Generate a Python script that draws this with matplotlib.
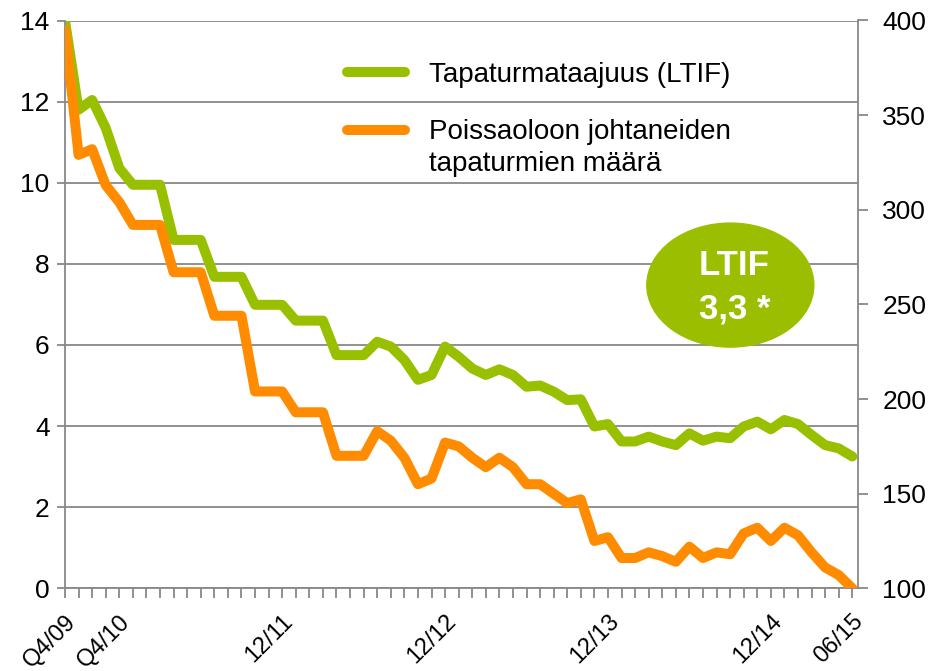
import numpy as np
import matplotlib.pyplot as plt
from matplotlib.patches import Ellipse
from matplotlib.legend_handler import HandlerLine2D

plt.rcParams['font.family'] = ['Liberation Sans', 'DejaVu Sans']

# quarterly Q4/09..Q4/10, then monthly 01/11..06/15
ltif = [14.0, 11.8, 12.04, 11.35, 10.36, 9.95, 9.95, 9.95, 8.59, 8.59,
        8.59, 7.68, 7.68, 7.68, 6.99, 6.99, 6.99, 6.6, 6.6, 6.6,
        5.75, 5.75, 5.75, 6.08, 5.96, 5.63, 5.14, 5.26, 5.96, 5.71,
        5.42, 5.26, 5.40, 5.26, 4.97, 5.0, 4.85, 4.64, 4.66, 3.99,
        4.05, 3.62, 3.62, 3.74, 3.62, 3.53, 3.82, 3.64, 3.74, 3.70,
        3.99, 4.11, 3.92, 4.15, 4.05, 3.78, 3.53, 3.45, 3.25]
tapaturmat = [395, 329, 332, 313, 304, 292, 292, 292, 267, 267,
              267, 244, 244, 244, 204, 204, 204, 193, 193, 193,
              170, 170, 170, 183, 178, 169, 155, 158, 177, 175,
              169, 164, 169, 164, 155, 155, 150, 145, 147, 125,
              127, 116, 116, 119, 117, 114, 122, 116, 119, 118,
              129, 132, 125, 132, 128, 119, 111, 107, 100]
label_pos = [0, 4, 16, 28, 40, 52, 58]
label_txt = ['Q4/09', 'Q4/10', '12/11', '12/12', '12/13', '12/14', '06/15']
ltif_now = '3,3 *'

green = '#99c000'
orange = '#ff8c00'
gray = '#888888'

x = np.arange(len(ltif))


class HandlerFirstLine(HandlerLine2D):
    # put the legend line next to the first row of a two-row label
    def create_artists(self, legend, orig_handle, xdescent, ydescent,
                       width, height, fontsize, trans):
        arts = super().create_artists(legend, orig_handle, xdescent, ydescent,
                                      width, height, fontsize, trans)
        for a in arts:
            a.set_ydata(np.asarray(a.get_ydata()) + 0.63 * fontsize)
        return arts


fig = plt.figure(figsize=(9.32, 6.71), dpi=100)
ax = fig.add_axes([65/932, 1-588.3/671, 793/932, 567.8/671])
ax2 = ax.twinx()

l1, = ax.plot(x, ltif, color=green, lw=7.2, solid_joinstyle='round',
              solid_capstyle='round', label='Tapaturmataajuus (LTIF)')
l2, = ax2.plot(x, tapaturmat, color=orange, lw=7.2, solid_joinstyle='round',
               solid_capstyle='round',
               label='Poissaoloon johtaneiden\ntapaturmien määrä')

ax.set_xlim(0, 58.42)
ax.set_ylim(0, 14)
ax.set_yticks(range(0, 15, 2))
ax2.set_ylim(100, 400)
ax2.set_yticks(range(100, 401, 50))

xlabels = [''] * len(x)
for p, t in zip(label_pos, label_txt):
    xlabels[p] = t
ax.set_xticks(x)
ax.set_xticklabels(xlabels)
plt.setp(ax.get_xticklabels(), rotation=45, ha='right', va='top',
         rotation_mode='anchor')

ax.yaxis.grid(True, color=gray, lw=1.3)
ax.set_axisbelow(True)

for s in ['top', 'right']:
    ax.spines[s].set_visible(False)
for s in ['top', 'left', 'bottom']:
    ax2.spines[s].set_visible(False)
for s in ['left', 'bottom']:
    ax.spines[s].set_color(gray)
    ax.spines[s].set_linewidth(1.3)
ax2.spines['right'].set_color(gray)
ax2.spines['right'].set_linewidth(1.3)

ax.tick_params(axis='y', length=6, width=1.3, color=gray, labelsize=19, pad=5)
ax.tick_params(axis='x', length=7, width=1.3, color=gray, labelsize=17, pad=9)
ax2.tick_params(axis='y', length=7, width=1.3, color=gray, labelsize=19, pad=10.5)

leg = ax2.legend(handles=[l1, l2], loc='upper left',
                 bbox_to_anchor=(347/932, 1-62/671), bbox_transform=fig.transFigure,
                 frameon=False, fontsize=20, handlelength=2.1, handletextpad=0.85,
                 labelspacing=1.1, borderpad=0, borderaxespad=0,
                 handler_map={l2: HandlerFirstLine()})
leg.get_texts()[1].set_linespacing(1.3)

ax2.add_patch(Ellipse((0.839, 0.534), 0.2106, 0.2184, transform=ax2.transAxes,
                      color='#9bbf00', zorder=5, clip_on=False))
ax2.text(0.8436, 0.5518, 'LTIF', transform=ax2.transAxes, ha='center',
         va='baseline', color='white', fontsize=25, fontweight='bold', zorder=6)
ax2.text(0.845, 0.4755, ltif_now, transform=ax2.transAxes, ha='center',
         va='baseline', color='white', fontsize=25, fontweight='bold', zorder=6)

fig.savefig('out.png', dpi=100)
